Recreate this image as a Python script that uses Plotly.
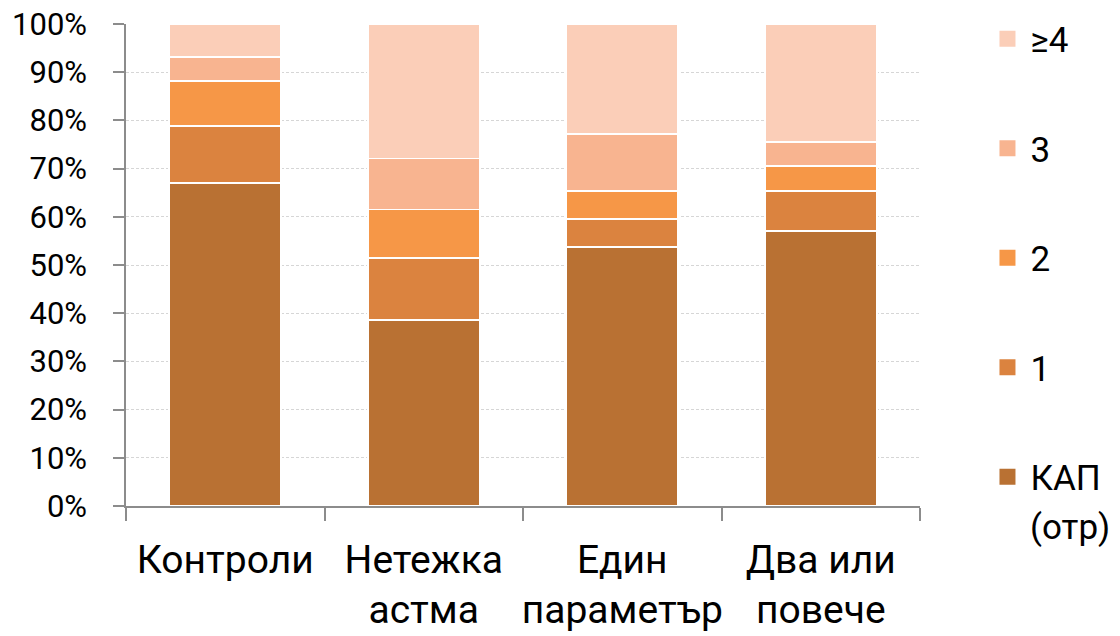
import plotly.graph_objects as go

categories = ["Контроли", "Нетежка<br>астма", "Един<br>параметър", "Два или<br>повече"]

# share of each group (%), stacked from bottom to top
kap = [67.0, 38.6, 53.8, 57.1]
one = [11.8, 12.8, 5.8, 8.3]
two = [9.4, 10.1, 5.8, 5.1]
three = [5.0, 10.6, 11.8, 5.1]
four_plus = [6.8, 27.9, 22.8, 24.4]

series_names = ["КАП", "1", "2", "3", "≥4"]
series_values = [kap, one, two, three, four_plus]
series_colors = ["#B97133", "#DB833F", "#F69747", "#F8B490", "#FBCEB8"]

FONT = "Roboto"

fig = go.Figure()
for name, vals, col in zip(series_names, series_values, series_colors):
    fig.add_trace(go.Bar(
        x=categories,
        y=[v / 100 for v in vals],
        name=name,
        showlegend=False,
        marker=dict(color=col, line=dict(color="white", width=1.8)),
        hoverinfo="skip",
    ))

# legend entries with larger square swatches, top entry = top of the stack
n = len(series_names)
for i, (name, col) in enumerate(zip(series_names, series_colors)):
    fig.add_trace(go.Scatter(
        x=[None], y=[None],
        mode="markers",
        name=name,
        legendgroup=f"g{i}",
        legendrank=n - i,
        marker=dict(symbol="square", size=16, color=col),
        hoverinfo="skip",
    ))

fig.add_annotation(
    text="(отр)",
    xref="paper", yref="paper",
    x=(1028 - 126) / 794, y=(506 - 527) / 482,
    xanchor="left", yanchor="middle",
    showarrow=False,
    font=dict(size=35, family=FONT, color="black"),
)

fig.update_layout(
    barmode="stack",
    bargap=0.435,
    width=1120,
    height=636,
    margin=dict(l=126, r=200, t=24, b=130, autoexpand=False),
    paper_bgcolor="white",
    plot_bgcolor="white",
    font=dict(family=FONT, color="black"),
    legend=dict(
        traceorder="grouped",
        tracegroupgap=61,
        itemwidth=36,
        xref="container", yref="container",
        x=0.879, y=0.985, xanchor="left", yanchor="top",
        font=dict(size=35, family=FONT),
        bgcolor="rgba(0,0,0,0)",
        maxheight=630,
    ),
    xaxis=dict(
        showline=True, linecolor="#8C8C8C", linewidth=1.5,
        ticks="outside", ticklen=13, tickwidth=1.5, tickcolor="#8C8C8C",
        tickson="boundaries",
        tickangle=0,
        automargin=False,
        tickfont=dict(size=39, family=FONT),
        ticklabelstandoff=18,
        showgrid=False,
    ),
    yaxis=dict(
        range=[0, 1],
        tickformat=".0%",
        dtick=0.1,
        automargin=False,
        showline=True, linecolor="#8C8C8C", linewidth=1.5,
        ticks="outside", ticklen=11, tickwidth=1.5, tickcolor="#8C8C8C",
        tickfont=dict(size=31, family=FONT),
        ticklabelstandoff=20,
        showgrid=True, gridcolor="#D6D6D6", gridwidth=1, griddash="3px,2px",
        zeroline=False,
    ),
)

fig.write_html("out.html")
